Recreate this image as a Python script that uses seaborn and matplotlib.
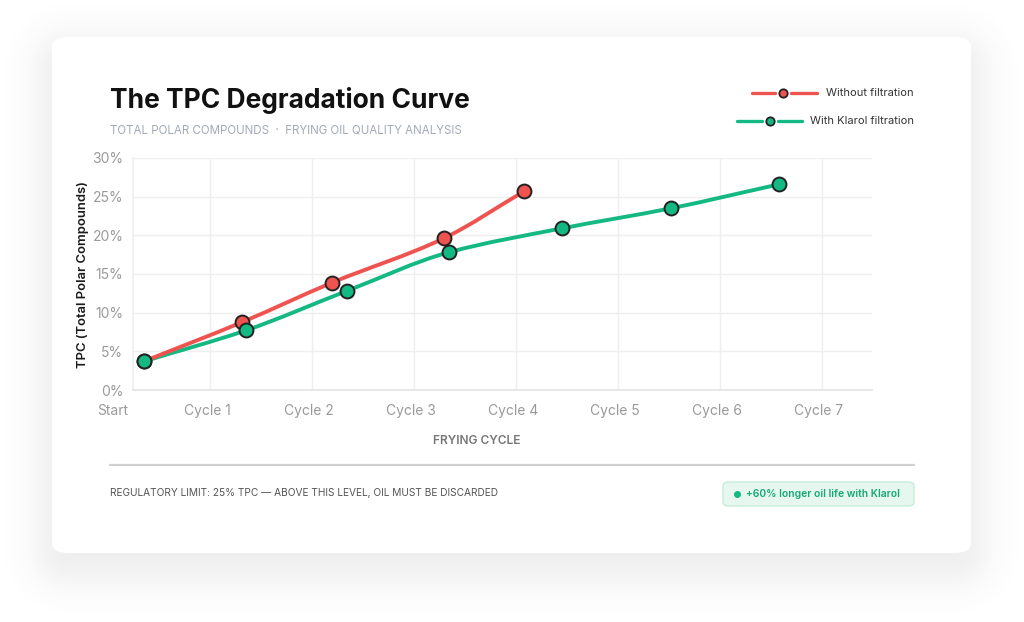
import numpy as np
import matplotlib
matplotlib.use("Agg")
import matplotlib.pyplot as plt
from matplotlib.patches import FancyBboxPatch, PathPatch
from matplotlib.path import Path
from matplotlib.lines import Line2D
import seaborn as sns

# data
cycle_labels = ["Start", "Cycle 1", "Cycle 2", "Cycle 3", "Cycle 4", "Cycle 5", "Cycle 6", "Cycle 7"]
without_x = [0.35, 1.31, 2.20, 3.29, 4.08]
without_tpc = [3.7, 8.75, 13.9, 19.6, 25.7]
with_x = [0.35, 1.35, 2.34, 3.34, 4.45, 5.52, 6.58]
with_tpc = [3.7, 7.7, 12.8, 17.8, 20.9, 23.5, 26.6]
y_ticks = [0, 5, 10, 15, 20, 25, 30]

RED = "#ef5350"
GREEN = "#14b883"

sns.set_theme(style="white")
plt.rcParams["font.family"] = ["Inter", "DejaVu Sans"]

W, H = 1024, 622
fig = plt.figure(figsize=(W / 100, H / 100), dpi=100)
fig.patch.set_facecolor("white")


def fx(x):
    return x / W


def fy(y):
    return 1 - y / H


# card with soft shadow
cx0, cy0, cx1, cy1 = 52, 37, 971, 553
yy, xx = np.mgrid[0:H, 0:W] + 0.5
ccx, ccy = (cx0 + cx1) / 2, (cy0 + cy1) / 2 + 14
hx, hy, rr = (cx1 - cx0) / 2, (cy1 - cy0) / 2, 16
qx = np.abs(xx - ccx) - (hx - rr)
qy = np.abs(yy - ccy) - (hy - rr)
dist = np.hypot(np.maximum(qx, 0), np.maximum(qy, 0)) + np.minimum(np.maximum(qx, qy), 0) - rr
alpha = 0.11 * np.exp(-np.clip(dist + 10, 0, None) ** 2 / (2 * 22.0 ** 2))
shadow = np.zeros((H, W, 4))
shadow[..., :3] = 0.45
shadow[..., 3] = alpha
fig.figimage(shadow, 0, 0, origin="upper", zorder=0)

fig.patches.append(FancyBboxPatch(
    (fx(cx0), fy(cy1)), fx(cx1 - cx0), (cy1 - cy0) / H,
    boxstyle="round,pad=0,rounding_size=0.016", transform=fig.transFigure,
    facecolor="white", edgecolor="none", zorder=1))

# axes
ax_l, ax_r, ax_t, ax_b = 133, 872, 158, 390
ax = fig.add_axes([fx(ax_l), fy(ax_b), fx(ax_r - ax_l), (ax_b - ax_t) / H], zorder=2)
ax.set_facecolor("none")
x_start_px, x_step = 108, 102
ax.set_xlim((ax_l - x_start_px) / x_step, (ax_r - x_start_px) / x_step)
ax.set_ylim(0, 30)

ax.set_yticks(y_ticks)
ax.set_yticklabels([f"{v}%" for v in y_ticks])
ax.set_xticks(range(1, len(cycle_labels)))
ax.set_xticklabels([])
ax.grid(True, color="#efefef", linewidth=1)
ax.tick_params(axis="y", length=0, pad=7, labelsize=10, labelcolor="#9a9a9a")
ax.tick_params(axis="x", length=0)
for side in ["top", "right"]:
    ax.spines[side].set_visible(False)
ax.spines["left"].set_color("#efefef")
ax.spines["bottom"].set_color("#e4e4e4")

for i, lab in enumerate(cycle_labels):
    xpos = i - 0.03 if i > 0 else 0.05
    ax.text(xpos, -2.7, lab, ha="center", va="center", fontsize=10,
            color="#9a9a9a", clip_on=False)

ax.set_ylabel("")
ax.set_xlabel("")
fig.text(fx(83), fy(275), "TPC (Total Polar Compounds)", rotation=90, ha="center", va="center",
         fontsize=9.4, fontweight="semibold", color="#1a1a1a")
fig.text(fx(477), fy(441), "FRYING CYCLE", ha="center", va="center", fontsize=8.6,
         fontweight="semibold", color="#777777")


def smooth_path(xs, ys):
    xs = np.asarray(xs, float)
    ys = np.asarray(ys, float)
    h = np.diff(xs)
    d = np.diff(ys) / h
    m = np.empty_like(xs)
    m[0], m[-1] = d[0], d[-1]
    for k in range(1, len(xs) - 1):
        if d[k - 1] * d[k] <= 0:
            m[k] = 0
        else:
            w1 = 2 * h[k] + h[k - 1]
            w2 = h[k] + 2 * h[k - 1]
            m[k] = (w1 + w2) / (w1 / d[k - 1] + w2 / d[k])
    verts = [(xs[0], ys[0])]
    codes = [Path.MOVETO]
    for k in range(len(xs) - 1):
        verts += [(xs[k] + h[k] / 3, ys[k] + m[k] * h[k] / 3),
                  (xs[k + 1] - h[k] / 3, ys[k + 1] - m[k + 1] * h[k] / 3),
                  (xs[k + 1], ys[k + 1])]
        codes += [Path.CURVE4] * 3
    return Path(verts, codes)


for xs, ys, col, z in [(with_x, with_tpc, GREEN, 3), (without_x, without_tpc, RED, 4)]:
    ax.add_patch(PathPatch(smooth_path(xs, ys), facecolor="none", edgecolor=col,
                           linewidth=2.8, capstyle="round", zorder=z))

sns.scatterplot(x=without_x, y=without_tpc, ax=ax, s=100, color=RED,
                edgecolor="#222222", linewidth=1.4, zorder=6, clip_on=False)
sns.scatterplot(x=with_x, y=with_tpc, ax=ax, s=100, color=GREEN,
                edgecolor="#222222", linewidth=1.4, zorder=7, clip_on=False)

# title and subtitle
fig.text(fx(110), fy(101), "The TPC Degradation Curve", ha="left", va="center",
         fontsize=19, fontweight="bold", color="#111111", zorder=5)
fig.text(fx(110), fy(130), "TOTAL POLAR COMPOUNDS  ·  FRYING OIL QUALITY ANALYSIS",
         ha="left", va="center", fontsize=8.3, color="#a3aab6", zorder=5)

# legend
for (x0, x1, dot, ty, txt, col) in [(752, 817, 783, 93, "Without filtration", RED),
                                    (737, 802, 770, 121, "With Klarol filtration", GREEN)]:
    fig.lines.append(Line2D([fx(x0), fx(dot - 8)], [fy(ty), fy(ty)], transform=fig.transFigure,
                            color=col, linewidth=2.4, solid_capstyle="round", zorder=5))
    fig.lines.append(Line2D([fx(dot + 8), fx(x1)], [fy(ty), fy(ty)], transform=fig.transFigure,
                            color=col, linewidth=2.4, solid_capstyle="round", zorder=5))
    fig.lines.append(Line2D([fx(dot)], [fy(ty)], transform=fig.transFigure, marker="o",
                            markersize=6, markerfacecolor=col, markeredgecolor="#222222",
                            markeredgewidth=1.3, linestyle="none", zorder=6))
    fig.text(fx(914), fy(ty), txt, ha="right", va="center", fontsize=8, color="#333333", zorder=5)

# footer
fig.lines.append(Line2D([fx(110), fx(914)], [fy(465), fy(465)], transform=fig.transFigure,
                        color="#d0d0d0", linewidth=1.6, zorder=5))
fig.text(fx(110), fy(493), "REGULATORY LIMIT: 25% TPC — ABOVE THIS LEVEL, OIL MUST BE DISCARDED",
         ha="left", va="center", fontsize=7.3, color="#555555", zorder=5)
fig.patches.append(FancyBboxPatch(
    (fx(723), fy(506)), fx(914 - 723), 24 / H,
    boxstyle="round,pad=0,rounding_size=0.006", transform=fig.transFigure,
    facecolor="#e5f7ee", edgecolor="#c6ecd9", linewidth=1, zorder=5))
fig.lines.append(Line2D([fx(737)], [fy(494)], transform=fig.transFigure, marker="o",
                        markersize=4, color=GREEN, linestyle="none", zorder=6))
fig.text(fx(746), fy(494), "+60% longer oil life with Klarol", ha="left", va="center",
         fontsize=7.4, fontweight="semibold", color="#14a874", zorder=6)

fig.savefig("out.png", dpi=100, facecolor="white")
